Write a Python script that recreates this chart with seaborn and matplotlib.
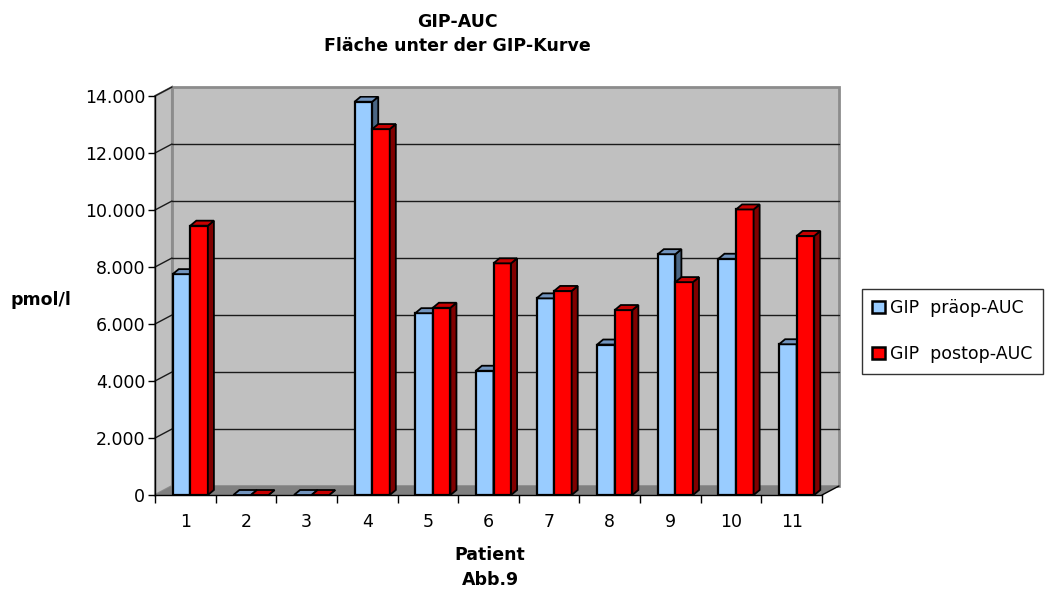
import numpy as np
import pandas as pd
import matplotlib
matplotlib.use('Agg')
import matplotlib.pyplot as plt
import seaborn as sns
from matplotlib.patches import Polygon, Rectangle, Patch
from matplotlib.lines import Line2D
from matplotlib.ticker import FuncFormatter, FixedLocator

# ---- data ----
patients = ['1', '2', '3', '4', '5', '6', '7', '8', '9', '10', '11']
praeop = [7750, 0, 0, 13800, 6380, 4360, 6900, 5280, 8450, 8290, 5290]
postop = [9450, 0, 0, 12840, 6570, 8130, 7160, 6490, 7470, 10020, 9090]
series = ['GIP  präop-AUC', 'GIP  postop-AUC']
yticks = [0, 2000, 4000, 6000, 8000, 10000, 12000, 14000]

df = pd.DataFrame({
    'Patient': patients * 2,
    'AUC': praeop + postop,
    'Serie': [series[0]] * len(patients) + [series[1]] * len(patients),
})

sns.set_theme(style='white')
plt.rcParams['font.family'] = ['DejaVu Sans']
plt.rcParams['text.color'] = 'black'
plt.rcParams['axes.labelcolor'] = 'black'

FS = 12.5
W, H = 1050, 595
fig = plt.figure(figsize=(W / 100, H / 100), dpi=100)
fig.patch.set_facecolor('white')
ax_l, ax_r, ax_t, ax_b = 155, 822, 96, 495
ax = fig.add_axes([ax_l / W, 1 - ax_b / H, (ax_r - ax_l) / W, (ax_b - ax_t) / H])
ax.patch.set_visible(False)

front_cols = ['#99CCFF', '#FF0000']
side_cols = ['#4A6684', '#800000']
top_cols = ['#7294BE', '#C80000']

sns.barplot(data=df, x='Patient', y='AUC', hue='Serie', palette=front_cols,
            width=0.58, edgecolor='black', linewidth=1.6, saturation=1,
            legend=False, ax=ax, zorder=3)

ax.set_xlim(-0.5, len(patients) - 0.5)
ax.set_ylim(0, 14000)

# pixel -> data conversions
px_x = (len(patients)) / (ax_r - ax_l)
px_y = 14000 / (ax_b - ax_t)

# walls (3D look)
wdx, wdy = 17 / (ax_r - ax_l), 9 / (ax_b - ax_t)  # axes fraction
wall = Rectangle((wdx, wdy), 1, 1, transform=ax.transAxes, clip_on=False,
                 fc='#C0C0C0', ec='#8C8C8C', lw=2, zorder=0)
ax.add_patch(wall)
side = Polygon([(0, 0), (wdx, wdy), (wdx, 1 + wdy), (0, 1)], closed=True,
               transform=ax.transAxes, clip_on=False, fc='#C0C0C0', ec='#8C8C8C',
               lw=1.5, zorder=0.5)
ax.add_patch(side)
floor = Polygon([(0, 0), (1, 0), (1 + wdx, wdy), (wdx, wdy)], closed=True,
                transform=ax.transAxes, clip_on=False, fc='#808080', ec='none',
                zorder=0.6)
ax.add_patch(floor)
ax.add_line(Line2D([1, 1 + wdx], [0, wdy], transform=ax.transAxes, color='black',
                   lw=1, clip_on=False, zorder=1))
for v in yticks[1:-1]:
    f = v / 14000
    ax.add_line(Line2D([wdx, 1 + wdx], [f + wdy, f + wdy], transform=ax.transAxes,
                       color='#1a1a1a', lw=1, clip_on=False, zorder=1))
for v in yticks[1:]:
    f = v / 14000
    ax.add_line(Line2D([0, wdx], [f, f + wdy], transform=ax.transAxes,
                       color='#1a1a1a', lw=1, clip_on=False, zorder=1))

# 3D faces for bars
ddx, ddy = 6 * px_x, 5 * px_y
shift = 5 * px_x
for si, cont in enumerate(ax.containers):
    for bi, bar in enumerate(cont):
        bar.set_x(bar.get_x() + shift)
        x, w, h = bar.get_x(), bar.get_width(), bar.get_height()
        z = 3 + bi * 0.1 + si * 0.05
        bar.set_zorder(z)
        sp = Polygon([(x + w, 0), (x + w + ddx, ddy), (x + w + ddx, h + ddy), (x + w, h)],
                     closed=True, fc=side_cols[si], ec='black', lw=1.3, zorder=z + 0.01)
        tp = Polygon([(x, h), (x + ddx, h + ddy), (x + w + ddx, h + ddy), (x + w, h)],
                     closed=True, fc=top_cols[si], ec='black', lw=1.3, zorder=z + 0.02)
        ax.add_patch(sp)
        ax.add_patch(tp)
        if h == 0:
            bar.set_visible(False)

# axes styling
for s in ['top', 'right']:
    ax.spines[s].set_visible(False)
for s in ['left', 'bottom']:
    ax.spines[s].set_color('black')
    ax.spines[s].set_linewidth(1)
    ax.spines[s].set_zorder(2)

ax.yaxis.set_major_locator(FixedLocator(yticks))
ax.yaxis.set_major_formatter(FuncFormatter(lambda v, p: f'{v:,.0f}'.replace(',', '.')))
ax.tick_params(axis='y', direction='out', length=5, width=1, color='black',
               labelsize=FS, labelcolor='black', pad=2, left=True)
ax.set_xticks(range(len(patients)))
ax.set_xticklabels(patients)
ax.set_xticks(np.arange(-0.5, len(patients), 1), minor=True)
ax.tick_params(axis='x', which='major', length=0, labelsize=FS, labelcolor='black', pad=13)
ax.tick_params(axis='x', which='minor', length=6, width=1, color='black', bottom=True)
ax.set_xlabel('')
ax.set_ylabel('')
ax.grid(False)

# texts
cx = 457 / W
fig.text(cx, 1 - 22 / H, 'GIP-AUC', ha='center', va='center', fontsize=FS,
         fontweight='bold', color='black')
fig.text(cx, 1 - 46 / H, 'Fläche unter der GIP-Kurve', ha='center', va='center',
         fontsize=FS, fontweight='bold', color='black')
fig.text(41 / W, 1 - 300 / H, 'pmol/l', ha='center', va='center', fontsize=FS,
         fontweight='bold', color='black')
fig.text(490 / W, 1 - 555 / H, 'Patient', ha='center', va='center', fontsize=FS,
         fontweight='bold', color='black')
fig.text(490 / W, 1 - 580 / H, 'Abb.9', ha='center', va='center', fontsize=FS,
         fontweight='bold', color='black')

handles = [Patch(fc=front_cols[i], ec='black', lw=1.8) for i in range(2)]
leg = fig.legend(handles, series, loc='upper left',
                 bbox_to_anchor=(862 / W, 1 - 289 / H), frameon=True, fancybox=False,
                 edgecolor='black', fontsize=FS, handlelength=0.7, handleheight=0.7,
                 handletextpad=0.3, labelspacing=1.6, borderpad=0.6, borderaxespad=0,
                 labelcolor='black')
leg.get_frame().set_linewidth(1)

fig.savefig('out.png', dpi=100, facecolor='white')
